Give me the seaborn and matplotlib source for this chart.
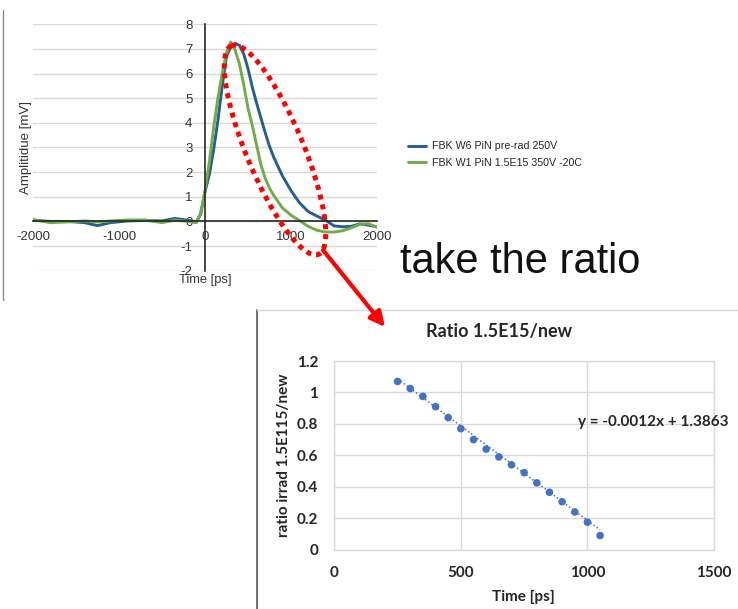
import matplotlib
matplotlib.use("Agg")
import numpy as np
import pandas as pd
import matplotlib.pyplot as plt
import seaborn as sns
from matplotlib.patches import Ellipse

# ---------------- data ----------------
time_ps = [-2000, -1800, -1600, -1400, -1250, -1100, -900, -700, -500, -350,
           -200, -100, -50, 0, 50, 100, 150, 200, 250, 300,
           350, 400, 450, 500, 550, 600, 650, 700, 750, 800,
           900, 1000, 1100, 1200, 1300, 1400, 1500, 1600, 1700, 1800,
           1900, 2000]

amp_prerad = [0.05, 0.0, 0.0, -0.05, -0.17, -0.05, 0.02, 0.04, 0.02, 0.12,
              0.05, -0.02, 0.3, 1.2, 1.9, 2.9, 4.1, 5.5, 6.7, 7.1,
              7.22, 7.15, 6.8, 6.2, 5.45, 4.8, 4.2, 3.6, 3.05, 2.6,
              1.85, 1.25, 0.75, 0.4, 0.22, 0.05, -0.18, -0.22, -0.2, -0.1,
              -0.15, -0.22]

amp_irrad = [0.08, -0.05, -0.02, 0.02, -0.02, 0.02, 0.06, 0.06, -0.05, 0.05,
             0.0, -0.05, 0.35, 1.25, 2.4, 3.8, 5.0, 6.0, 6.85, 7.28,
             6.95, 6.4, 5.55, 4.6, 3.9, 3.1, 2.3, 1.75, 1.35, 1.05,
             0.55, 0.25, 0.03, -0.2, -0.36, -0.43, -0.43, -0.38, -0.26, -0.12,
             -0.09, -0.24]

series_names = ["FBK W6 PiN pre-rad 250V", "FBK W1 PiN 1.5E15 350V -20C"]
series_colors = ["#255E91", "#70AD47"]

ratio_time = [250, 300, 350, 400, 450, 500, 550, 600, 650, 700,
              750, 800, 850, 900, 950, 1000, 1050]
ratio_vals = [1.07, 1.025, 0.975, 0.91, 0.84, 0.77, 0.70, 0.64, 0.59, 0.54,
              0.49, 0.425, 0.365, 0.305, 0.24, 0.175, 0.09]

trend_slope = -0.0012
trend_intercept = 1.3863

# ---------------- figure ----------------
sns.set_theme(style="white")
plt.rcParams["font.family"] = ["Liberation Sans", "DejaVu Sans"]
plt.rcParams["axes.unicode_minus"] = False

W, H = 738, 609
fig = plt.figure(figsize=(W / 100, H / 100), dpi=100)
fig.patch.set_facecolor("white")


def fx(px):
    return px / W


def fy(py):
    return 1 - py / H


# ---------- pulse shapes ----------
pulses = pd.DataFrame({
    "time": time_ps * 2,
    "amp": amp_prerad + amp_irrad,
    "series": [series_names[0]] * len(time_ps) + [series_names[1]] * len(time_ps),
})

ax1 = fig.add_axes([fx(33), fy(270.7), 344 / W, 246.4 / H])
sns.lineplot(data=pulses, x="time", y="amp", hue="series", hue_order=series_names,
             palette=dict(zip(series_names, series_colors)), lw=2.1, ax=ax1,
             sort=True, estimator=None)
ax1.set_xlim(-2000, 2000)
ax1.set_ylim(-2, 8)
ax1.set_xticks([-2000, -1000, 0, 1000, 2000])
ax1.set_yticks(range(-2, 9))
for side in ("top", "right"):
    ax1.spines[side].set_visible(False)
ax1.spines["left"].set_position(("data", 0))
ax1.spines["bottom"].set_position(("data", 0))
ax1.spines["left"].set_color("#262626")
ax1.spines["bottom"].set_color("#262626")
ax1.spines["left"].set_linewidth(1.2)
ax1.spines["bottom"].set_linewidth(1.2)
ax1.set_axisbelow(True)
ax1.yaxis.grid(True, color="#d9d9d9", lw=1.0)
ax1.xaxis.grid(False)
ax1.tick_params(axis="both", direction="in", length=4, width=1, color="#262626",
                labelsize=9.5, labelcolor="#333333")
ax1.tick_params(axis="x", pad=7)
ax1.tick_params(axis="y", pad=9)
ax1.set_xlabel("Time [ps]", fontsize=9.3, color="#333333")
ax1.xaxis.set_label_coords(0.5, -0.013)
ax1.set_ylabel("Amplitidue [mV]", fontsize=9.5, color="#333333")
ax1.yaxis.set_label_coords(-0.004, 0.5)

handles, labels = ax1.get_legend_handles_labels()
ax1.get_legend().remove()
fig.legend(handles, labels, loc="center left", bbox_to_anchor=(fx(408), fy(154.5)),
           frameon=False, fontsize=7.7, handlelength=1.65, handletextpad=0.55,
           labelspacing=0.6, borderpad=0, borderaxespad=0)

# ---------- ratio plot ----------
bold_font = ["Lato", "DejaVu Sans"]
ax2 = fig.add_axes([fx(334.3), fy(549.7), 379.7 / W, 188.7 / H])
trend_x = [ratio_time[0], ratio_time[-1]]
trend_y = [trend_slope * t + trend_intercept for t in trend_x]
sns.lineplot(x=trend_x, y=trend_y, ax=ax2, color="#4472C4", lw=1.1,
             linestyle=(0, (1, 1.5)))
sns.scatterplot(x=ratio_time, y=ratio_vals, ax=ax2, color="#4472C4", s=30,
                edgecolor="none", zorder=3)
ax2.set_xlim(0, 1500)
ax2.set_ylim(0, 1.2)
ax2.set_xticks([0, 500, 1000, 1500])
ax2.set_yticks([0, 0.2, 0.4, 0.6, 0.8, 1.0, 1.2])
ax2.set_xticklabels(["0", "500", "1000", "1500"])
ax2.set_yticklabels(["0", "0.2", "0.4", "0.6", "0.8", "1", "1.2"])
ax2.set_axisbelow(True)
ax2.grid(True, color="#d9d9d9", lw=1.0)
for s in ax2.spines.values():
    s.set_color("#d9d9d9")
    s.set_linewidth(1.0)
ax2.tick_params(axis="both", length=0, labelsize=11, labelcolor="#262626")
ax2.tick_params(axis="x", pad=12)
ax2.tick_params(axis="y", pad=11.5)
for lab in ax2.get_xticklabels() + ax2.get_yticklabels():
    lab.set_family(bold_font)
    lab.set_fontweight("bold")
ax2.set_xlabel("Time [ps]", fontsize=11, fontweight="bold", family=bold_font,
               color="#262626")
ax2.xaxis.set_label_coords(0.497, -0.2136)
ax2.set_ylabel("ratio irrad 1.5E115/new", fontsize=11, fontweight="bold",
               family=bold_font, color="#262626")
ax2.yaxis.set_label_coords(-0.115, 0.502)
ax2.text(963, 0.812, f"y = {trend_slope}x + {trend_intercept}", ha="left",
         va="center", fontsize=11, fontweight="bold", family=bold_font,
         color="#262626")
fig.text(fx(499), fy(332), "Ratio 1.5E15/new", ha="center", va="center",
         fontsize=13, fontweight="bold", family=bold_font, color="#262626")

# ---------- annotations layer (pixel coordinates) ----------
ov = fig.add_axes([0, 0, 1, 1], zorder=10)
ov.set_xlim(0, W)
ov.set_ylim(H, 0)
ov.axis("off")
ov.patch.set_alpha(0)

ov.plot([3.3, 3.3], [10, 300], color="#8c8c8c", lw=1.0)
ov.plot([256.5, 256.5], [310, H], color="#595959", lw=1.2)
ov.plot([256.5, W], [310, 310], color="#d9d9d9", lw=1.0)

ov.add_patch(Ellipse((275, 150), width=57, height=226, angle=-22.6, fill=False,
                     edgecolor="#ff0000", lw=3.6, linestyle=(0, (1, 1))))
ov.annotate("", xy=(385, 327), xytext=(323, 250),
            arrowprops=dict(arrowstyle="-|>", color="#ff0000", lw=3,
                            mutation_scale=22, shrinkA=0, shrinkB=0))
ov.text(400, 262, "take the ratio", fontsize=30, ha="left", va="center",
        color="#111111")

fig.savefig("out.png", dpi=100)
